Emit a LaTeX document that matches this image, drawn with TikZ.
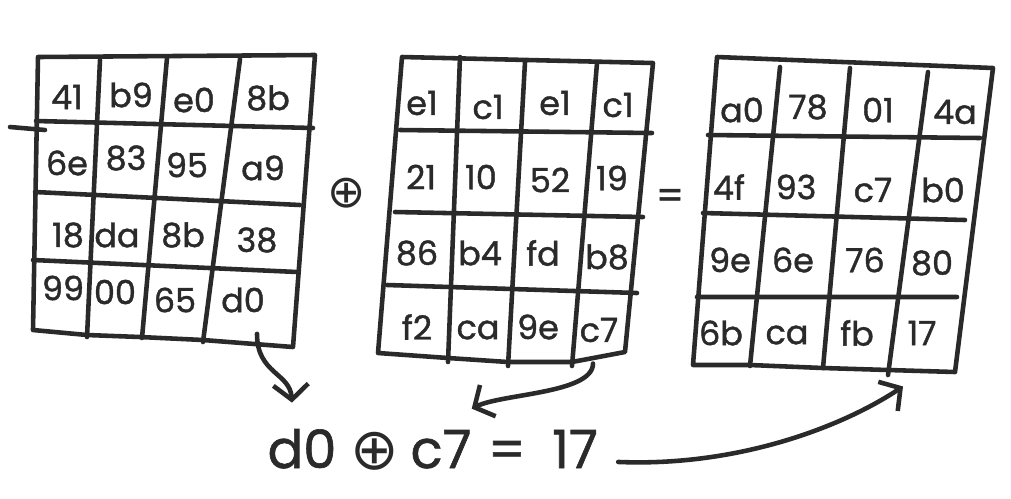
\documentclass[tikz,border=0pt]{standalone}
\usepackage{fontspec}
\setmainfont{Poppins}[FakeBold=1.2]
\newfontfamily\symfont{DejaVu Sans}
\usetikzlibrary{arrows.meta,calc}
\definecolor{ink}{HTML}{2A2A2A}

\begin{document}
\begin{tikzpicture}[x=0.02cm,y=-0.02cm,
    ink line/.style={draw=ink,line width=2.6pt,line cap=round,line join=round},
    cell/.style={inner sep=0pt,text=ink,font=\fontsize{19}{19}\selectfont},
    big/.style={inner sep=0pt,text=ink,anchor=base,font=\fontsize{30}{30}\selectfont},
    arr/.style={ink line,-{Straight Barb[length=0.3cm,width=0.7cm]}}]
    \useasboundingbox (0,0) rectangle (1011,498);
    % state
    \draw [ink line] (38,57) -- (315,55) -- (293,347) -- (203,340) -- (140,337) -- (87,335) -- (33,330) -- cycle;
    \draw [ink line] (100,60) -- (87,337) (167,58) -- (142,338) (240,59) -- (203,342);
    \draw [ink line] (36,121) -- (313,128) (35,192) -- (300,205) (33,260) -- (297,272);
    \draw [ink line] (10,127) -- (45,130);
    \node (s11) at (67,97) [cell] {41};
    \node (s12) at (131,95) [cell] {b9};
    \node (s13) at (194,100) [cell] {e0};
    \node (s14) at (268,98) [cell] {8b};
    \node (s21) at (67,163) [cell] {6e};
    \node (s22) at (126,158) [cell] {83};
    \node (s23) at (187,165) [cell] {95};
    \node (s24) at (263,168) [cell] {a9};
    \node (s31) at (68,235) [cell] {18};
    \node (s32) at (117,235) [cell] {da};
    \node (s33) at (183,235) [cell] {8b};
    \node (s34) at (257,240) [cell] {38};
    \node (s41) at (63,288) [cell] {99};
    \node (s42) at (115,292) [cell] {00};
    \node (s43) at (175,300) [cell] {65};
    \node (s44) at (243,300) [cell] {d0};
    \node (plus0) at (347,193) [inner sep=0pt,text=ink,font=\symfont\fontsize{26}{26}\selectfont] {⊕};
    % round key
    \draw [ink line] (402,57) -- (653,63) -- (625,352) -- (572,362) -- (508,362) -- (448,358) -- (378,353) -- cycle;
    \draw [ink line] (460,57) -- (448,362) (525,62) -- (508,366) (597,63) -- (572,366);
    \draw [ink line] (400,130) -- (652,133) (395,212) -- (643,217) (387,285) -- (637,293);
    \node (k11) at (422,103) [cell] {e1};
    \node (k12) at (488,107) [cell] {c1};
    \node (k13) at (555,103) [cell] {e1};
    \node (k14) at (618,105) [cell] {c1};
    \node (k21) at (421,177) [cell] {21};
    \node (k22) at (481,177) [cell] {10};
    \node (k23) at (550,180) [cell] {52};
    \node (k24) at (612,178) [cell] {19};
    \node (k31) at (417,253) [cell] {86};
    \node (k32) at (480,253) [cell] {b4};
    \node (k33) at (543,253) [cell] {fd};
    \node (k34) at (607,257) [cell] {b8};
    \node (k41) at (417,327) [cell] {f2};
    \node (k42) at (478,330) [cell] {ca};
    \node (k43) at (538,327) [cell] {9e};
    \node (k44) at (599,330) [cell] {c7};
    \node (equals0) at (670,199) [cell,font=\fontsize{22}{22}\selectfont] {=};
    % result
    \draw [ink line] (717,57) -- (993,68) -- (955,372) -- (888,370) -- (823,368) -- (750,365) -- (693,365) -- cycle;
    \draw [ink line] (780,67) -- (750,366) (850,68) -- (823,368) (928,72) -- (888,375);
    \draw [ink line] (708,135) -- (980,138) (703,213) -- (965,220) (697,297) -- (957,297);
    \node (r11) at (742,110) [cell] {a0};
    \node (r12) at (808,107) [cell] {78};
    \node (r13) at (878,110) [cell] {01};
    \node (r14) at (955,112) [cell] {4a};
    \node (r21) at (729,187) [cell] {4f};
    \node (r22) at (796,187) [cell] {93};
    \node (r23) at (873,190) [cell] {c7};
    \node (r24) at (943,190) [cell] {b0};
    \node (r31) at (730,260) [cell] {9e};
    \node (r32) at (793,260) [cell] {6e};
    \node (r33) at (865,260) [cell] {76};
    \node (r34) at (932,263) [cell] {80};
    \node (r41) at (721,333) [cell] {6b};
    \node (r42) at (787,335) [cell] {ca};
    \node (r43) at (857,333) [cell] {fb};
    \node (r44) at (922,333) [cell] {17};
    % one byte worked out
    \node (eqleft) at (302,468) [big] {d0};
    \node (eqop) at (375,451) [inner sep=0pt,text=ink,font=\symfont\fontsize{33}{33}\selectfont] {⊕};
    \node (eqright) at (441,468) [big] {c7};
    \node (eqsign) at (507,468) [big] {=};
    \node (eqres) at (575,468) [big] {17};
    \draw [arr] ($(s44.south)+(14,21)$) .. controls +(0,40) and +(-2,-30) .. ($(eqleft.north)+(-10,-26)$);
    \draw [arr] ($(k44.south)+(-6,21)$) .. controls +(0,30) and +(30,-15) .. ($(eqright.north east)+(0,-21)$);
    \draw [arr] ($(eqres.east)+(20,13)$) .. controls +(120,5) and +(-60,40) .. ($(r44.south)+(-19,41)$);
\end{tikzpicture}
\end{document}
